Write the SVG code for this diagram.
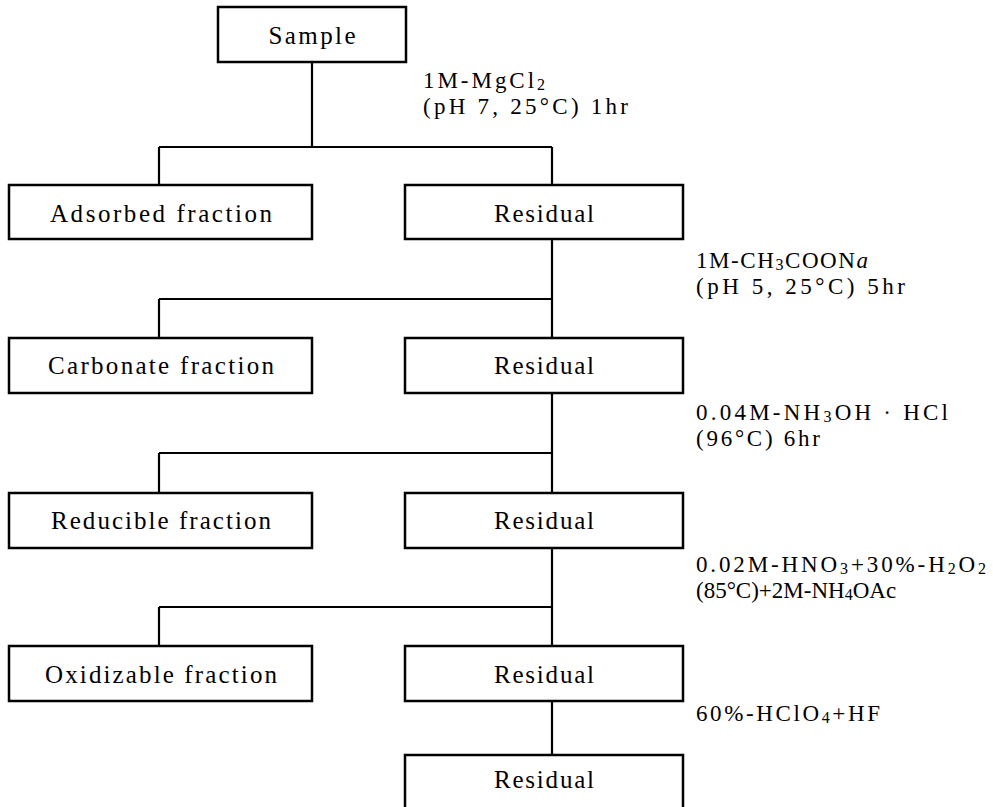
<svg xmlns="http://www.w3.org/2000/svg" width="993" height="807" viewBox="0 0 993 807">
<style>
.box{fill:#fff;stroke:#000;stroke-width:2.5}
.c{fill:none;stroke:#000;stroke-width:2.2}
text{font-family:"Liberation Serif","DejaVu Serif",serif;font-size:25px;fill:#000}
.m{text-anchor:middle}
.l{font-size:23px}
.s{font-size:16px}
</style>
<rect width="993" height="807" fill="#fff"/>
<g id="connectors">
<path class="c" d="M312,62 V147 M159,147 H552 M159,147 V185 M552,147 V185"/>
<path class="c" d="M552,239 V338 M159,299 H552 M159,299 V338"/>
<path class="c" d="M552,393 V493 M159,453 H552 M159,453 V493"/>
<path class="c" d="M552,548 V646 M159,607 H552 M159,607 V646"/>
<path class="c" d="M552,701 V755"/>
</g>
<g id="sample"><rect class="box" x="218" y="7" width="188" height="55"/><text x="312" y="44" class="m" textLength="87" lengthAdjust="spacing">Sample</text></g>
<g id="adsorbed"><rect class="box" x="9" y="185" width="303" height="54"/><text x="161" y="222" class="m" textLength="222" lengthAdjust="spacing">Adsorbed fraction</text></g>
<g id="residual1"><rect class="box" x="405" y="185" width="278" height="54"/><text x="544" y="222" class="m" textLength="100" lengthAdjust="spacing">Residual</text></g>
<g id="carbonate"><rect class="box" x="9" y="338" width="303" height="55"/><text x="161" y="374" class="m" textLength="226" lengthAdjust="spacing">Carbonate fraction</text></g>
<g id="residual2"><rect class="box" x="405" y="338" width="278" height="55"/><text x="544" y="374" class="m" textLength="100" lengthAdjust="spacing">Residual</text></g>
<g id="reducible"><rect class="box" x="9" y="493" width="303" height="55"/><text x="161" y="529" class="m" textLength="220" lengthAdjust="spacing">Reducible fraction</text></g>
<g id="residual3"><rect class="box" x="405" y="493" width="278" height="55"/><text x="544" y="529" class="m" textLength="100" lengthAdjust="spacing">Residual</text></g>
<g id="oxidizable"><rect class="box" x="9" y="646" width="303" height="55"/><text x="161" y="683" class="m" textLength="232" lengthAdjust="spacing">Oxidizable fraction</text></g>
<g id="residual4"><rect class="box" x="405" y="646" width="278" height="55"/><text x="544" y="683" class="m" textLength="100" lengthAdjust="spacing">Residual</text></g>
<g id="residual5"><rect class="box" x="405" y="755" width="278" height="70"/><text x="544" y="788" class="m" textLength="100" lengthAdjust="spacing">Residual</text></g>
<g id="labels">
<text class="l" x="423" y="88" textLength="122" lengthAdjust="spacing">1M-MgCl<tspan class="s" dy="2">2</tspan></text>
<text class="l" x="423" y="114" textLength="205" lengthAdjust="spacing">(pH 7, 25°C) 1hr</text>
<text class="l" x="696" y="268" textLength="172" lengthAdjust="spacing">1M-CH<tspan class="s" dy="2">3</tspan><tspan dy="-2">COON</tspan><tspan font-style="italic">a</tspan></text>
<text class="l" x="696" y="294" textLength="209" lengthAdjust="spacing">(pH 5, 25°C) 5hr</text>
<text class="l" x="696" y="420" textLength="252" lengthAdjust="spacing">0.04M-NH<tspan class="s" dy="2">3</tspan><tspan dy="-2">OH · HCl</tspan></text>
<text class="l" x="696" y="446" textLength="124" lengthAdjust="spacing">(96°C) 6hr</text>
<text class="l" x="696" y="572" textLength="290" lengthAdjust="spacing">0.02M-HNO<tspan class="s" dy="2">3</tspan><tspan dy="-2">+30%-H</tspan><tspan class="s" dy="2">2</tspan><tspan dy="-2">O</tspan><tspan class="s" dy="2">2</tspan></text>
<text class="l" x="696" y="598">(85°C)+2M-NH<tspan class="s" dy="2">4</tspan><tspan dy="-2">OAc</tspan></text>
<text class="l" x="696" y="721" textLength="184" lengthAdjust="spacing">60%-HClO<tspan class="s" dy="2">4</tspan><tspan dy="-2">+HF</tspan></text>
</g>
</svg>
